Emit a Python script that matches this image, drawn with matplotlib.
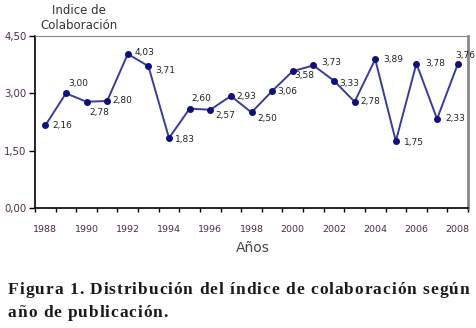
import matplotlib
matplotlib.use("Agg")
import matplotlib.pyplot as plt
from matplotlib.ticker import FixedLocator, FuncFormatter
from matplotlib.font_manager import FontProperties

years = list(range(1988, 2009))
indice = [2.16, 3.00, 2.78, 2.80, 4.03, 3.71, 1.83, 2.60, 2.57, 2.93, 2.50,
          3.06, 3.58, 3.73, 3.33, 2.78, 3.89, 1.75, 3.78, 2.33, 3.76]
# label offsets in points (dx, dy) relative to each point
offsets = [(5, 0), (2, 7), (2, -8), (4, 0), (5, 1), (5, -3), (4, -1), (1, 7),
           (4, -4), (4, 0), (4, -4), (4, 0), (1, -3), (6, 2), (4, -2), (4, 0),
           (6, 0), (6, -1), (6, 0), (6, 0), (-2, 6)]

caption1 = "Figura 1. Distribución del índice de colaboración según"
caption2 = "año de publicación."

fig = plt.figure(figsize=(4.77, 3.28), dpi=100)
ax = fig.add_axes([35 / 477, 120 / 328, 433 / 477, 172 / 328])

x = list(range(len(years)))
ax.plot(x, indice, color="#3b3b9b", lw=1.4, marker="o", ms=4,
        mfc="#10107a", mec="#10107a", zorder=3)

for xi, v, (dx, dy) in zip(x, indice, offsets):
    ax.annotate(("%.2f" % v).replace(".", ","), (xi, v), xytext=(dx, dy),
                textcoords="offset points", ha="left", va="center",
                fontsize=6.5, color="#222222")

ax.set_xlim(-0.5, len(years) - 0.5)
ax.set_ylim(0, 4.5)
ax.set_yticks([0, 1.5, 3.0, 4.5])
ax.yaxis.set_major_formatter(FuncFormatter(lambda v, p: ("%.2f" % v).replace(".", ",")))
ax.set_xticks(x[::2])
ax.set_xticklabels([str(y) for y in years[::2]])
ax.xaxis.set_minor_locator(FixedLocator([i - 0.5 for i in range(len(years) + 1)]))
ax.tick_params(axis="x", which="major", length=0, pad=12, labelsize=6.8, labelcolor="#4a2a4a")
ax.tick_params(axis="x", which="minor", length=3, width=1, color="black", direction="out")
ax.tick_params(axis="y", length=4, width=1, pad=2, labelsize=7.3, labelcolor="#4a2a4a")

for s in ["left", "bottom"]:
    ax.spines[s].set_color("black")
    ax.spines[s].set_linewidth(1.2)
ax.spines["top"].set_color("#888888")
ax.spines["top"].set_linewidth(0.8)
ax.spines["right"].set_color("#888888")
ax.spines["right"].set_linewidth(2)

fig.text(79 / 477, 1 - 18 / 328, "Indice de\nColaboración", ha="center", va="center",
         fontsize=8.5, color="#333333", linespacing=1.15)
fig.text(253 / 477, 1 - 248 / 328, "Años", ha="center", va="center",
         fontsize=10, color="#444444")

# caption drawn char by char so it can be spread like the printed one
prop = FontProperties(family="Liberation Serif", weight="bold", size=12.5)
renderer = fig.canvas.get_renderer()


def tracked(s, x0, ybase, x1=None, track=1.0):
    def w(t):
        return renderer.get_text_width_height_descent(t, prop, ismath=False)[0]
    pos = []
    for i, c in enumerate(s):
        if c == " ":
            pos.append(None)
            continue
        pos.append(w(s[:i + 1]) - w(c))
    n = len(s) - 1
    total = w(s) + track * n
    if x1 is not None:
        track = (x1 - x0 - w(s)) / n
    for i, c in enumerate(s):
        if pos[i] is None:
            continue
        px = x0 + pos[i] + track * i
        fig.text(px / 477, 1 - ybase / 328, c, ha="left", va="baseline",
                 fontproperties=prop, color="#1a1a1a")


tracked(caption1, 8, 294, x1=469)
tracked(caption2, 8, 317, track=0.9)

fig.savefig("out.png", dpi=100)
